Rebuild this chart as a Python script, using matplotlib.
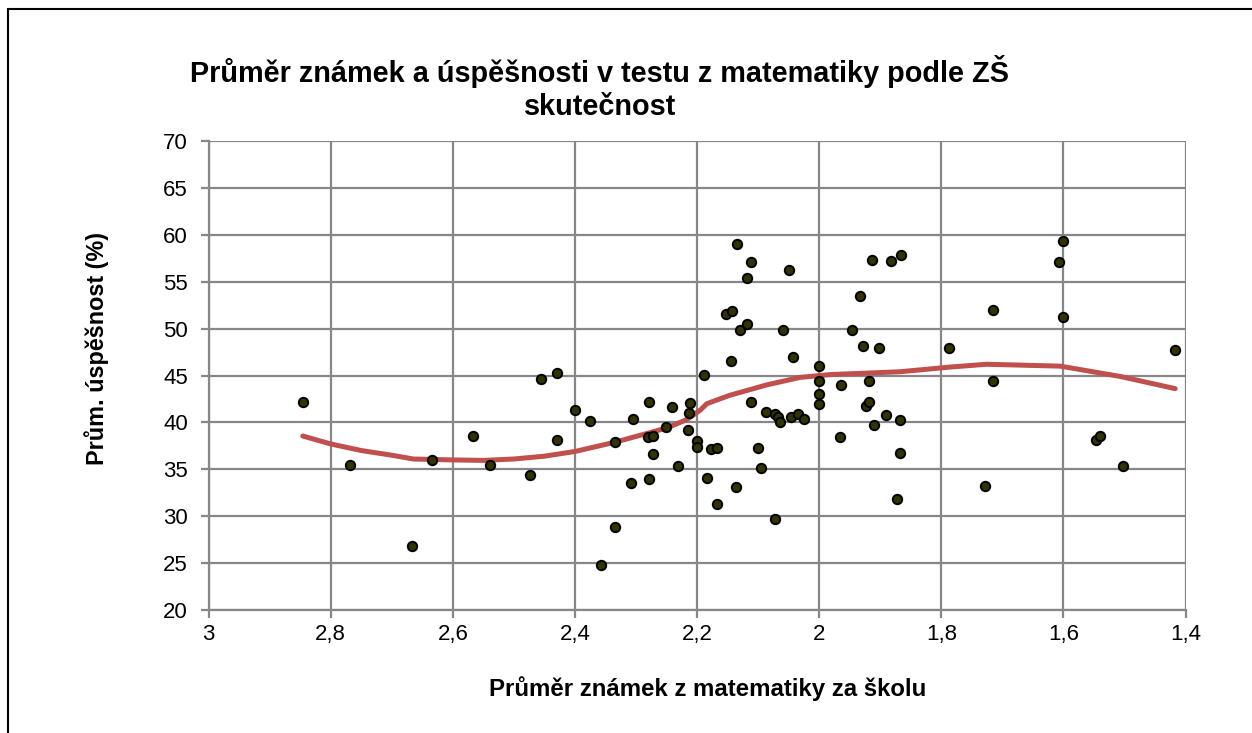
import matplotlib
matplotlib.use("Agg")
import matplotlib.pyplot as plt
from matplotlib.patches import Rectangle
from matplotlib.ticker import FuncFormatter

plt.rcParams['font.family'] = ['Liberation Sans', 'DejaVu Sans']

# prumer znamek (x) a prumerna uspesnost (y) za skolu
znamky = [2.846, 2.769, 2.667, 2.634, 2.567, 2.539, 2.474, 2.455, 2.429, 2.429,
          2.400, 2.376, 2.358, 2.334, 2.334, 2.308, 2.305, 2.281, 2.279, 2.278,
          2.273, 2.273, 2.251, 2.241, 2.231, 2.215, 2.213, 2.211, 2.201, 2.201,
          2.189, 2.183, 2.178, 2.167, 2.167, 2.152, 2.143, 2.144, 2.137, 2.134,
          2.130, 2.119, 2.119, 2.112, 2.112, 2.101, 2.096, 2.087, 2.073, 2.072,
          2.067, 2.065, 2.060, 2.049, 2.047, 2.043, 2.035, 2.025, 2.001, 2.001,
          2.001, 2.001, 1.966, 1.965, 1.946, 1.934, 1.929, 1.924, 1.918, 1.918,
          1.914, 1.910, 1.902, 1.890, 1.882, 1.872, 1.868, 1.868, 1.866, 1.787,
          1.728, 1.716, 1.716, 1.608, 1.601, 1.601, 1.547, 1.540, 1.502, 1.418]
uspesnost = [42.2, 35.5, 26.8, 36.0, 38.6, 35.5, 34.4, 44.6, 45.3, 38.1,
             41.35, 40.15, 24.8, 37.9, 28.9, 33.5, 40.4, 38.4, 42.2, 34.0,
             38.5, 36.6, 39.5, 41.6, 35.3, 39.2, 41.0, 42.1, 38.0, 37.4,
             45.1, 34.1, 37.2, 37.3, 31.3, 51.6, 51.9, 46.5, 33.1, 59.05,
             49.9, 55.4, 50.5, 57.1, 42.2, 37.3, 35.1, 41.1, 29.7, 40.9,
             40.6, 40.0, 49.9, 56.3, 40.6, 47.0, 40.9, 40.4, 46.0, 44.4,
             43.0, 42.0, 38.4, 43.95, 49.8, 53.5, 48.1, 41.7, 44.4, 42.2,
             57.3, 39.75, 47.9, 40.8, 57.2, 31.8, 40.3, 36.7, 57.8, 47.9,
             33.2, 51.95, 44.45, 57.1, 59.3, 51.2, 38.1, 38.5, 35.4, 47.7]

# vyhlazena krivka (trend)
trend_x = [2.846, 2.80, 2.75, 2.70, 2.665, 2.60, 2.55, 2.50, 2.45, 2.40,
           2.334, 2.25, 2.217, 2.195, 2.184, 2.146, 2.086, 2.031, 1.982, 1.868,
           1.786, 1.726, 1.605, 1.507, 1.417]
trend_y = [38.55, 37.7, 37.0, 36.5, 36.1, 36.0, 35.95, 36.1, 36.4, 36.9,
           37.9, 39.4, 40.3, 41.3, 42.0, 42.9, 44.0, 44.8, 45.1, 45.4,
           45.9, 46.2, 46.0, 44.9, 43.6]

x_ticks = [3.0, 2.8, 2.6, 2.4, 2.2, 2.0, 1.8, 1.6, 1.4]
y_ticks = [20, 25, 30, 35, 40, 45, 50, 55, 60, 65, 70]

fig = plt.figure(figsize=(12.52, 7.33), dpi=100)
ax = fig.add_axes([0.1667, 0.1678, 0.7802, 0.6398])

grid_c = '#878787'
ax.set_xlim(3.0, 1.4)
ax.set_ylim(20, 70)
ax.set_xticks(x_ticks)
ax.set_yticks(y_ticks)
ax.grid(True, color=grid_c, linewidth=1.6, zorder=0)
for s in ['top', 'right']:
    ax.spines[s].set_visible(False)
for s in ['left', 'bottom']:
    ax.spines[s].set_color(grid_c)
    ax.spines[s].set_linewidth(1.6)
ax.tick_params(colors=grid_c, width=1.6, length=6, labelcolor='black',
               labelsize=16)
ax.tick_params(axis='y', pad=9)
ax.tick_params(axis='x', pad=4)
ax.xaxis.set_major_formatter(FuncFormatter(lambda v, p: ('%g' % v).replace('.', ',')))

ax.plot(trend_x, trend_y, color='#C0504D', linewidth=3.6, zorder=2,
        solid_capstyle='round')
ax.scatter(znamky, uspesnost, s=46, color='#333300', edgecolors='black',
           linewidths=1.4, zorder=3, clip_on=False)

fig.text(0.479, 0.88, 'Průměr známek a úspěšnosti v testu z matematiky podle ZŠ\nskutečnost',
         ha='center', va='center', fontsize=20.8, fontweight='bold', linespacing=1.25)
fig.text(0.5655, 0.061, 'Průměr známek z matematiky za školu', ha='center', va='center',
         fontsize=17.3, fontweight='bold')
fig.text(0.0775, 0.525, 'Prům. úspěšnost (%)', ha='center', va='center', rotation=90,
         fontsize=16.8, fontweight='bold')

# ramecek grafu
fig.patches.append(Rectangle((8 / 1252, -0.1), 1.2, 1 - 9 / 733 + 0.1, transform=fig.transFigure,
                             fill=False, edgecolor='black', linewidth=1.5))

fig.savefig('out.png', dpi=100)
